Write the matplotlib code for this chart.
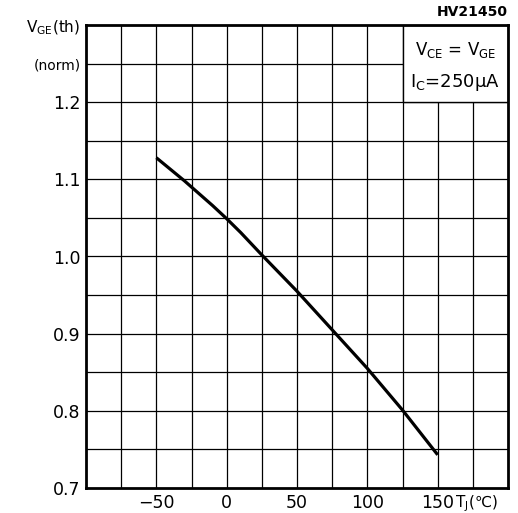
import matplotlib
matplotlib.use('Agg')
import matplotlib.pyplot as plt
import numpy as np
from matplotlib.patches import Rectangle

# curve
tj = [-50, -40, -30, -20, -10, 0, 10, 25, 50, 75, 100, 125, 150]
vth_norm = [1.128, 1.113, 1.098, 1.082, 1.066, 1.049, 1.031, 1.002,
            0.955, 0.905, 0.855, 0.801, 0.743]

x_ticks = [-50, 0, 50, 100, 150]
y_ticks = [0.7, 0.8, 0.9, 1.0, 1.1, 1.2]

fig = plt.figure(figsize=(5.18, 5.13), dpi=100)
ax = fig.add_axes([86/518, 25/513, 422/518, 463/513])

ax.set_xlim(-100, 200)
ax.set_ylim(0.7, 1.3)

# grid every 25 / 0.05
for gx in np.arange(-75, 200, 25):
    ax.axvline(gx, color='black', lw=0.9, zorder=1)
for gy in np.arange(0.75, 1.3, 0.05):
    ax.axhline(gy, color='black', lw=0.9, zorder=1)

for s in ax.spines.values():
    s.set_linewidth(2)

# condition box, top right
ax.add_patch(Rectangle((125, 1.2), 75, 0.1, facecolor='white', edgecolor='black',
                       lw=1, zorder=2))
ax.text(162.5, 1.268, r'V$_{\mathregular{CE}}$ = V$_{\mathregular{GE}}$', ha='center', va='center',
        fontsize=12, zorder=3)
ax.text(162.5, 1.225, r'I$_{\mathregular{C}}$=250μA', ha='center', va='center',
        fontsize=13, zorder=3)

ax.plot(tj, vth_norm, color='black', lw=2.3, zorder=4, solid_capstyle='butt')

ax.set_xticks(x_ticks)
ax.set_xticklabels([str(v).replace('-', '\u2212') for v in x_ticks])
ax.set_yticks(y_ticks + [1.25, 1.3])
ax.set_yticklabels([f'{v:.1f}' for v in y_ticks] + ['(norm)', r'V$_{\mathregular{GE}}$(th)'])
ax.tick_params(length=0, labelsize=12.5, pad=4)
ylabs = ax.get_yticklabels()
ylabs[-2].set_fontsize(10)
ylabs[-1].set_fontsize(11)

fig.text(455/518, 1 - 507/513, r'T$_{\mathregular{J}}$(℃)', ha='left', va='baseline',
         fontsize=11)

fig.text(508/518, 1 - 12/513, 'HV21450', ha='right', va='center', fontsize=10,
         fontweight='bold')

fig.savefig('out.png', dpi=100)
